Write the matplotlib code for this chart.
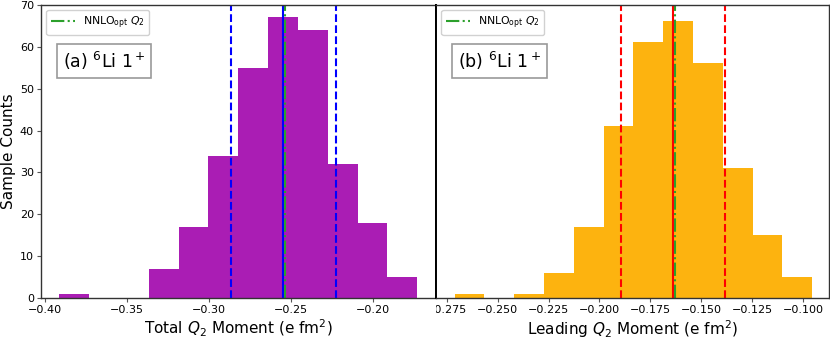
import matplotlib
matplotlib.use("Agg")
import matplotlib.pyplot as plt
import numpy as np
from matplotlib.patches import Rectangle

# Histogram data (300 samples each), bin edges
total_lo, total_hi = -0.3913, -0.1730
total_counts = [1, 0, 0, 7, 17, 34, 55, 67, 64, 32, 18, 5]
total_lines = {"mean": -0.2547, "lo": -0.2866, "hi": -0.2227, "nnlo": -0.2535}

lead_lo, lead_hi = -0.2711, -0.0956
lead_counts = [1, 0, 1, 6, 17, 41, 61, 66, 56, 31, 15, 5]
lead_lines = {"mean": -0.1639, "lo": -0.1894, "hi": -0.1384, "nnlo": -0.1629}

total_ticks = [-0.40, -0.35, -0.30, -0.25, -0.20]
lead_ticks = [-0.275, -0.250, -0.225, -0.200, -0.175, -0.150, -0.125, -0.100]
y_ticks = [0, 10, 20, 30, 40, 50, 60, 70]

W, H = 830, 339
fig = plt.figure(figsize=(W / 100, H / 100), dpi=100)
ax1 = fig.add_axes([41 / W, 1 - 298.3 / H, (436 - 41) / W, 293.6 / H])
ax2 = fig.add_axes([436 / W, 1 - 298.3 / H, (829 - 436) / W, 293.6 / H])

panels = [
    (ax1, total_lo, total_hi, total_counts, total_lines, "#AA1DB4", "b",
     "Total $Q_2$ Moment (e fm$^2$)", "(a) $^6$Li $1^+$", (-0.4024, -0.1616), total_ticks),
    (ax2, lead_lo, lead_hi, lead_counts, lead_lines, "#FDB30F", "r",
     "Leading $Q_2$ Moment (e fm$^2$)", "(b) $^6$Li $1^+$", (-0.2802, -0.0874), lead_ticks),
]

for ax, lo, hi, counts, lines, color, lcolor, xlabel, tag, xlim, ticks in panels:
    edges = np.linspace(lo, hi, len(counts) + 1)
    ax.bar(edges[:-1], counts, width=np.diff(edges), align="edge",
           color=color, linewidth=0)
    ax.axvline(lines["lo"], color=lcolor, ls="--", lw=1.5)
    ax.axvline(lines["hi"], color=lcolor, ls="--", lw=1.5)
    ax.axvline(lines["mean"], color=lcolor, ls="-", lw=1.5)
    ax.axvline(lines["nnlo"], color="#2ca02c", ls="-.", lw=1.5,
               label=r"NNLO$_{\rm opt}$ $Q_2$")
    ax.set_xlim(*xlim)
    ax.set_ylim(0, 70)
    ax.set_xticks(ticks)
    ax.set_yticks(y_ticks)
    ax.tick_params(labelsize=8, length=3, pad=2, color="#555555")
    ax.set_xlabel(xlabel, fontsize=11, labelpad=2)
    ax.legend(loc="upper left", fontsize=7.8, handlelength=2.2,
              borderaxespad=0.5, framealpha=0.9)
    ax.text(0.055, 0.807, tag, transform=ax.transAxes, fontsize=12.5,
            ha="left", va="center",
            bbox=dict(boxstyle="square,pad=0.35", facecolor="white",
                      edgecolor="#999999", lw=1.2))
    for s in ax.spines.values():
        s.set_color("#333333")
        s.set_linewidth(1.0)

ax1.set_ylabel("Sample Counts", fontsize=11, labelpad=3)
ax1.spines["right"].set_color("black")
ax1.spines["right"].set_linewidth(1.4)
ax2.spines["left"].set_color("black")
ax2.spines["left"].set_linewidth(1.4)
ax2.tick_params(left=False, labelleft=False)

# right panel was cropped at its left edge: hide what falls left of it
fig.canvas.draw()
clip = Rectangle((436 / W, 0), 1, 1, transform=fig.transFigure)
for lab in ax2.get_xticklabels():
    lab.set_clip_path(clip)
    lab.set_clip_on(True)

fig.savefig("out.png", dpi=100, facecolor="white")
